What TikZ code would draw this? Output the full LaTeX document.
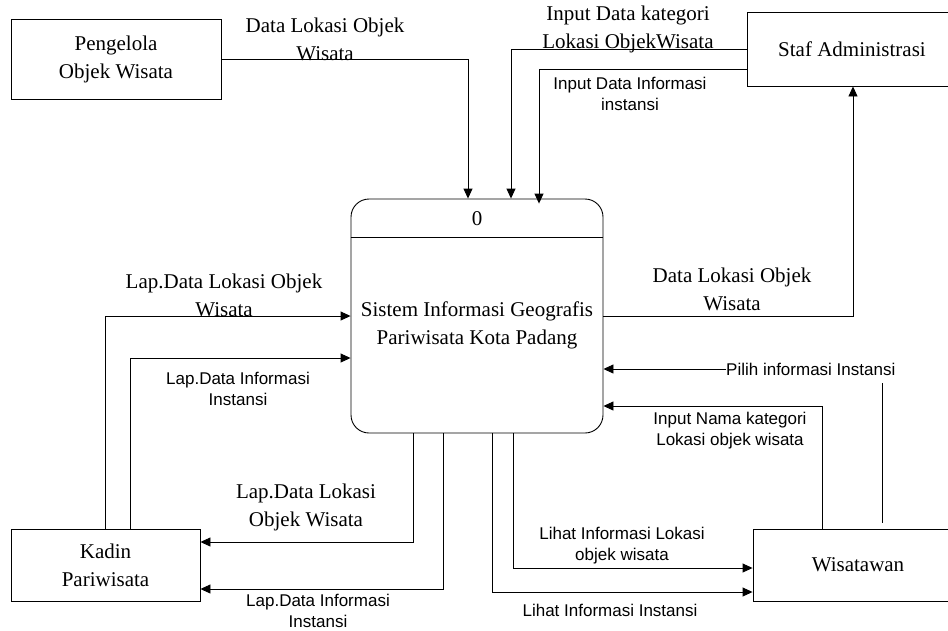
\documentclass[tikz,border=0pt]{standalone}
\usepackage{fontspec}
\setmainfont{Liberation Serif}
\newfontfamily\sansf{Liberation Sans}
\usetikzlibrary{arrows.meta}
\begin{document}
\begin{tikzpicture}[x=1pt,y=-1pt,
  ent/.style={draw,line width=0.9pt,inner sep=0pt,align=center,font=\fontsize{21}{28}\selectfont},
  flow/.style={draw,line width=0.9pt,-{Triangle[length=10pt,width=9pt]}},
  plain/.style={draw,line width=0.9pt},
  slab/.style={align=center,inner sep=0pt,font=\fontsize{21}{28}\selectfont},
  alab/.style={align=center,inner sep=0pt,font=\sansf\fontsize{17}{21}\selectfont}]
\clip (0,0) rectangle (948,630);
\fill[white] (0,0) rectangle (948,630);
% entities
\node[ent,minimum width=210pt,minimum height=80pt] (pen) at (116,59) {Pengelola\\Objek Wisata};
\node[ent,minimum width=210pt,minimum height=74pt] (staf) at (852,49) {Staf Administrasi};
\node[ent,minimum width=189pt,minimum height=72pt] (kadin) at (105.5,565) {Kadin\\Pariwisata};
\node[ent,minimum width=210pt,minimum height=72pt] (wis) at (858,565) {Wisatawan};
% process
\node[draw,line width=0.9pt,rounded corners=18pt,minimum width=252pt,minimum height=234pt,inner sep=0pt] (proc) at (477,316) {};
\node[slab] (pid) at (477,219) {0};
\draw[line width=0.9pt] (proc.west |- 0,237) -- (proc.east |- 0,237);
\node[slab] (ptitle) at (477,325) {Sistem Informasi Geografis\\Pariwisata Kota Padang};
% flows
\draw[flow] (pen.east) -| ([xshift=-9pt]proc.north);
\node[slab] (l1) at (325,39) {Data Lokasi Objek\\Wisata};
\draw[flow] (staf.west) -| ([xshift=34pt]proc.north);
\node[slab] (l2) at (628,29) {Input Data kategori\\Lokasi ObjekWisata};
\draw[flow] ([yshift=-20pt]staf.west) -| ([xshift=62pt,yshift=-5pt]proc.north);
\node[alab] (l3) at (630,94) {Input Data Informasi\\instansi};
\draw[flow] (proc.east) -| ([xshift=1pt]staf.south);
\node[slab] (l4) at (732,289) {Data Lokasi Objek\\Wisata};
\draw[flow] (kadin.north) |- (proc.west);
\node[slab] (l5) at (224,295) {Lap.Data Lokasi Objek\\Wisata};
\draw[flow] ([xshift=24.5pt]kadin.north) |- ([yshift=-42pt]proc.west);
\node[alab] (l6) at (238,389) {Lap.Data Informasi\\Instansi};
\draw[flow] ([xshift=-64pt]proc.south) |- ([yshift=23pt]kadin.east);
\node[slab] (l7) at (306,507) {Lap.Data Lokasi\\Objek Wisata};
\draw[flow] ([xshift=-34pt]proc.south) |- ([yshift=-24pt]kadin.east);
\node[alab] (l8) at (318,611) {Lap.Data Informasi\\Instansi};
\node[alab,anchor=west] (pilih) at (726,369) {Pilih informasi Instansi};
\draw[flow] (pilih.west) -- (pilih.west -| proc.east);
\coordinate (pa) at (882,383);
\coordinate (pb) at (882,523);
\draw[plain] (pa) -- (pb);
\draw[flow] ([xshift=-36pt]wis.north) |- ([yshift=-90pt]proc.east);
\node[alab] (l9) at (730,431) {Input Nama kategori\\Lokasi objek wisata};
\draw[flow] ([xshift=36pt]proc.south) |- ([yshift=-3pt]wis.west);
\node[alab] (l10) at (622,546) {Lihat Informasi Lokasi\\objek wisata};
\draw[flow] ([xshift=15pt]proc.south) |- ([yshift=-27pt]wis.west);
\node[alab] (l11) at (610,610) {Lihat Informasi Instansi};
\end{tikzpicture}
\end{document}
